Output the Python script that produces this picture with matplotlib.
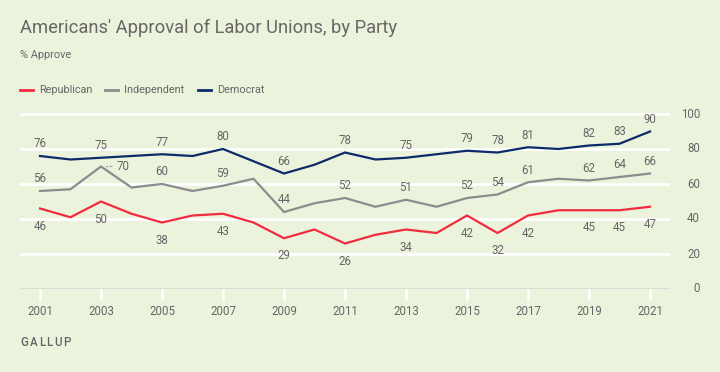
import matplotlib
matplotlib.use("Agg")
import matplotlib.pyplot as plt
from matplotlib.lines import Line2D
from matplotlib.transforms import blended_transform_factory

plt.rcParams['font.family'] = ['Roboto', 'DejaVu Sans']

years = list(range(2001, 2022))
republican = [46, 41, 50, 43, 38, 42, 43, 38, 29, 34, 26, 31, 34, 32, 42, 32, 42, 45, 45, 45, 47]
independent = [56, 57, 70, 58, 60, 56, 59, 63, 44, 49, 52, 47, 51, 47, 52, 54, 61, 63, 62, 64, 66]
democrat = [76, 74, 75, 76, 77, 76, 80, 73, 66, 71, 78, 74, 75, 77, 79, 78, 81, 80, 82, 83, 90]
label_years = [2001, 2003, 2005, 2007, 2009, 2011, 2013, 2015, 2016, 2017, 2019, 2020, 2021]
xtick_years = list(range(2001, 2022, 2))
ytick_vals = [0, 20, 40, 60, 80, 100]
series_names = ["Republican", "Independent", "Democrat"]
colors = ["#F02C3E", "#8B8C8D", "#0D2A6B"]

BG = "#ECF3DD"
TXT = "#666666"
W, H = 720, 372
FS = 8.3

fig = plt.figure(figsize=(W/100, H/100), dpi=100, facecolor=BG)
ax = fig.add_axes([20/W, (H-289)/H, 650/W, (289-110.5)/H])
ax.set_facecolor(BG)
ax.set_xlim(2001 - 20/30.5, 2021 + 20/30.5)
ax.set_ylim(0, 102)
for s in ax.spines.values():
    s.set_visible(False)
ax.set_yticks([])
ax.set_xticks([])

for v in ytick_vals[1:]:
    ax.axhline(v, color="white", lw=2, zorder=1)
ax.axhline(0, color="#DCDCD8", lw=2.2, zorder=1)

xt = blended_transform_factory(ax.transData, ax.transAxes)
for y in xtick_years:
    ax.add_line(Line2D([y, y], [-0.005, -0.055], transform=xt, color="white", lw=1.8, clip_on=False, zorder=2))
    ax.text(y, -0.125, str(y), transform=xt, ha="center", va="center", fontsize=FS, color=TXT)

yt = blended_transform_factory(ax.transAxes, ax.transData)
for v in ytick_vals:
    ax.text(1 + 30/650, v, str(v), transform=yt, ha="right", va="center", fontsize=FS, color=TXT)

data = [republican, independent, democrat]
for vals, c in zip(data, colors):
    ax.plot(years, vals, color=c, lw=1.6, zorder=3, solid_joinstyle="miter")

for vals, name in zip(data, series_names):
    for y in label_years:
        v = vals[years.index(y)]
        if name == "Republican":
            ax.annotate(str(v), (y, v), xytext=(0, -8), textcoords="offset points",
                        ha="center", va="top", fontsize=FS, color=TXT)
        elif name == "Independent" and y == 2003:
            ax.annotate(str(v), (y, v), xytext=(11, 0), textcoords="offset points",
                        ha="left", va="center", fontsize=FS, color=TXT,
                        arrowprops=dict(arrowstyle="-", linestyle=(0, (2, 2)), color="#999999",
                                        lw=0.8, shrinkA=1, shrinkB=4))
        else:
            ax.annotate(str(v), (y, v), xytext=(0, 4), textcoords="offset points",
                        ha="center", va="bottom", fontsize=FS, color=TXT)

fig.text(20/W, 1 - 28/H, "Americans' Approval of Labor Unions, by Party", fontsize=13.2,
         color=TXT, ha="left", va="center")
fig.text(20/W, 1 - 55/H, "% Approve", fontsize=7.8, color=TXT, ha="left", va="center")

legend_x = [20, 105, 198]
for lx, name, c in zip(legend_x, series_names, colors):
    fig.add_artist(Line2D([lx/W, (lx+13)/W], [1 - 90/H, 1 - 90/H], color=c, lw=2))
    fig.text((lx+19)/W, 1 - 90/H, name, fontsize=7.8, color=TXT, ha="left", va="center")

# letter-spaced source label
renderer = fig.canvas.get_renderer()
x = 20.0
for ch in "GALLUP":
    t = fig.text(x/W, 1 - 342/H, ch, fontsize=8.3, color=TXT, ha="left", va="center",
                 fontweight="medium")
    w = t.get_window_extent(renderer=renderer).width
    x += w + 1.6

fig.savefig("out.png", dpi=100, facecolor=BG)
